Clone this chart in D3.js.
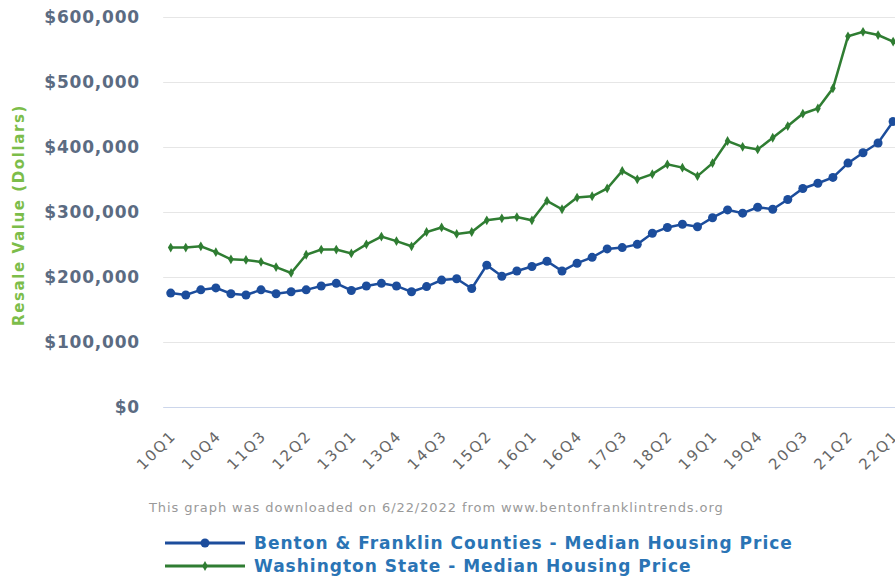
<!DOCTYPE html>
<head>
    <meta charset="utf-8">
    <script src="https://d3js.org/d3.v7.min.js"></script>
    <style>
        body { margin:0; background:#fff; }
        svg { display:block; font-family:"DejaVu Sans", sans-serif; }
    </style>
</head>
<body>
<script>
    // quarterly categories 10Q1 .. 22Q1
    var quarters = [];
    for (var yr = 10; yr <= 22; yr++) {
        for (var q = 1; q <= 4; q++) {
            if (yr === 22 && q > 1) break;
            quarters.push(yr + "Q" + q);
        }
    }
    var tickLabels = ["10Q1","10Q4","11Q3","12Q2","13Q1","13Q4","14Q3","15Q2","16Q1",
        "16Q4","17Q3","18Q2","19Q1","19Q4","20Q3","21Q2","22Q1"];
    var yTicks = [0, 100000, 200000, 300000, 400000, 500000, 600000];

    // thousands of dollars
    var bentonFranklin = [176,173,181,184,175,173,181,175,178,181,187,191,180,187,191,187,
        178,186,196,198,183,219,202,210,217,225,210,222,231,244,246,251,268,277,282,278,
        292,304,299,308,305,320,337,345,354,376,392,407,440];
    var washington = [246,246,248,239,228,227,224,216,207,235,243,243,237,251,263,256,
        248,270,277,267,270,288,291,293,288,318,305,323,325,337,364,351,359,374,369,356,
        376,410,401,397,415,433,452,460,491,571,578,573,563];

    var seriesNames = ["Benton & Franklin Counties - Median Housing Price",
        "Washington State - Median Housing Price"];
    var blue = "#1c4d9c", green = "#2f7d32";

    var width = 895, height = 578;
    var svg = d3.select("body").append("svg")
        .attr("width", width)
        .attr("height", height);

    var x = d3.scalePoint().domain(quarters).range([163.2, 163.2 + 49 * 15.05]).padding(0.5);
    var y = d3.scaleLinear().domain([0, 600000]).range([407.5, 17.5]);

    // grid lines
    svg.append("g")
        .selectAll("line")
        .data(yTicks.slice(1))
        .enter().append("line")
        .attr("x1", 163.2).attr("x2", width)
        .attr("y1", function(d) { return y(d); })
        .attr("y2", function(d) { return y(d); })
        .attr("stroke", "#e6e6e6")
        .attr("stroke-width", 1);

    svg.append("line")
        .attr("x1", 163.2).attr("x2", width)
        .attr("y1", y(0)).attr("y2", y(0))
        .attr("stroke", "#ccd6eb")
        .attr("stroke-width", 1);

    // y axis labels
    var yAxis = svg.append("g")
        .attr("transform", "translate(140,0)")
        .call(d3.axisLeft(y).tickValues(yTicks).tickSize(0).tickPadding(0)
            .tickFormat(function(d) { return "$" + d3.format(",")(d); }));
    yAxis.select(".domain").remove();
    yAxis.selectAll("text")
        .attr("fill", "#5b6b82")
        .style("font-size", "17px")
        .style("font-weight", "bold")
        .style("letter-spacing", "0.8px")
        .style("font-family", "DejaVu Sans");

    svg.append("text")
        .attr("transform", "translate(24,215) rotate(-90)")
        .attr("text-anchor", "middle")
        .attr("fill", "#7cbd4a")
        .style("font-size", "15px")
        .style("font-weight", "bold")
        .style("letter-spacing", "1.6px")
        .text("Resale Value (Dollars)");

    // x axis labels
    var xAxis = svg.append("g")
        .attr("transform", "translate(0," + y(0) + ")")
        .call(d3.axisBottom(x).tickValues(tickLabels).tickSize(0));
    xAxis.select(".domain").remove();
    xAxis.selectAll("text")
        .attr("fill", "#666")
        .style("font-size", "15px")
        .style("letter-spacing", "2px")
        .style("font-family", "DejaVu Sans")
        .attr("text-anchor", "end")
        .attr("dy", null)
        .attr("y", 0)
        .attr("transform", "translate(6,29) rotate(-45)");

    // lines and markers
    var line = d3.line()
        .x(function(d, i) { return x(quarters[i]); })
        .y(function(d) { return y(d * 1000); });

    svg.append("path")
        .attr("d", line(washington))
        .attr("fill", "none")
        .attr("stroke", green)
        .attr("stroke-width", 2.5);

    svg.append("g").selectAll("path")
        .data(washington)
        .enter().append("path")
        .attr("d", d3.symbol().type(d3.symbolDiamond).size(28))
        .attr("transform", function(d, i) { return "translate(" + x(quarters[i]) + "," + y(d * 1000) + ")"; })
        .attr("fill", green);

    svg.append("path")
        .attr("d", line(bentonFranklin))
        .attr("fill", "none")
        .attr("stroke", blue)
        .attr("stroke-width", 2.5);

    svg.append("g").selectAll("circle")
        .data(bentonFranklin)
        .enter().append("circle")
        .attr("cx", function(d, i) { return x(quarters[i]); })
        .attr("cy", function(d) { return y(d * 1000); })
        .attr("r", 4.5)
        .attr("fill", blue);

    // credit
    svg.append("text")
        .attr("x", 149).attr("y", 512)
        .attr("fill", "#999")
        .style("font-size", "13px")
        .style("letter-spacing", "0.93px")
        .text("This graph was downloaded on 6/22/2022 from www.bentonfranklintrends.org");

    // legend
    var legend = svg.append("g");
    [blue, green].forEach(function(c, i) {
        var ly = 543 + i * 23;
        legend.append("line")
            .attr("x1", 165).attr("x2", 245)
            .attr("y1", ly).attr("y2", ly)
            .attr("stroke", c).attr("stroke-width", 3);
        if (i === 0) {
            legend.append("circle").attr("cx", 205).attr("cy", ly).attr("r", 4.5).attr("fill", c);
        } else {
            legend.append("path")
                .attr("d", d3.symbol().type(d3.symbolDiamond).size(28))
                .attr("transform", "translate(205," + ly + ")")
                .attr("fill", c);
        }
        legend.append("text")
            .attr("x", 254).attr("y", ly + 6)
            .attr("fill", "#2a74b5")
            .style("font-size", "17px")
            .style("font-weight", "bold")
            .style("letter-spacing", "1px")
            .text(seriesNames[i]);
    });
</script>
</body>
